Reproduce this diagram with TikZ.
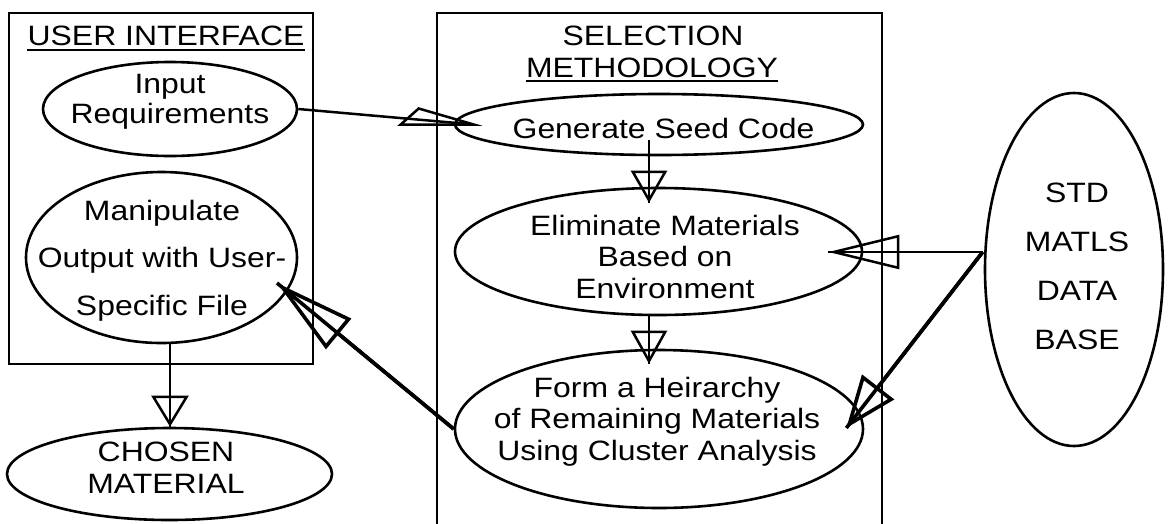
\documentclass[tikz,border=0pt]{standalone}
\usepackage{fontspec}
\setmainfont[FakeStretch=1.14]{Liberation Sans}
\usetikzlibrary{shapes.geometric,arrows.meta,calc}
\begin{document}
\begin{tikzpicture}[x=1pt,y=-1pt,
  frame/.style={draw,line width=2.8pt},
  oval/.style={draw,ellipse,line width=2.6pt,inner sep=0pt},
  txt/.style={inner sep=0pt,align=center,anchor=base,font=\fontsize{28}{#1}\selectfont},
  txt/.default=30,
  conn/.style={line width=2.5pt},
  thickconn/.style={line width=3.6pt},
  ahead/.style 2 args={postaction={draw,-{Triangle[open,length=#1,width=#2]}}},
]
\useasboundingbox (0,0) rectangle (1169,523);
% frames
\draw[frame] (9,13) rectangle (313,364);
\draw[frame] (437,13) rectangle (882,545);
% titles
\node[txt] (uit) at (166,45) {USER INTERFACE};
\draw[line width=2.2pt] ($(uit.base west)+(0,5)$) -- ($(uit.base east)+(0,5)$);
\node[txt] (selt) at (653,45) {SELECTION};
\node[txt] (metht) at (652,77) {METHODOLOGY};
\draw[line width=2.2pt] ($(metht.base west)+(0,4)$) -- ($(metht.base east)+(0,4)$);
% ellipses
\node[oval,minimum width=254pt,minimum height=94pt] (inp) at (170,109) {};
\node[oval,minimum width=271pt,minimum height=171pt] (man) at (161.5,257.5) {};
\node[oval,minimum width=325pt,minimum height=92pt] (cho) at (169.5,474) {};
\node[oval,minimum width=408pt,minimum height=61pt] (gen) at (659,124.5) {};
\node[oval,minimum width=407pt,minimum height=127pt] (eli) at (658.5,251.5) {};
\node[oval,minimum width=408pt,minimum height=158pt] (frm) at (659,429) {};
\node[oval,minimum width=178pt,minimum height=353pt] (std) at (1074,269.5) {};
% texts (base anchor = baseline of last line)
\node[txt] (inpt) at (170,123) {Input\\Requirements};
\node[txt=47.5] (mant) at (162,315) {Manipulate\\Output with User-\\Specific File};
\node[txt=32] (chot) at (166,493) {CHOSEN\\MATERIAL};
\node[txt] (gent) at (663.5,138) {Generate Seed Code};
\node[txt=31.5] (elit) at (665,298) {Eliminate Materials\\Based on\\Environment};
\node[txt=31.5] (frmt) at (657,460) {Form a Heirarchy\\of Remaining Materials\\Using Cluster Analysis};
\node[txt=48.7] (stdt) at (1077,349) {STD\\MATLS\\DATA\\BASE};
% connectors
\draw[conn] (inp.east) -- ($(gen.west)+(20,0)$) coordinate (ia);
\draw[conn,line join=miter] (ia) -- ++(-73,0) -- ++(18,-16) -- cycle;
\draw[conn,ahead={32pt}{36pt}] ($(gen.center)+(-10,15.5)$) -- ($(eli.north)+(-9.5,16)$);
\draw[conn,ahead={33pt}{36pt}] ($(eli.south)+(-9.5,0)$) -- ($(frm.north)+(-10,15)$);
\draw[conn,ahead={31pt}{37pt}] ($(man.south)+(8.5,0)$) -- ($(cho.north)+(0.5,0)$);
\coordinate (ss) at ($(std.west)+(-1,-17.5)$);
\draw[conn,ahead={71pt}{34pt}] (ss) -- ($(eli.east)+(-35,0.5)$);
\draw[thickconn,ahead={52pt}{40pt}] (ss) -- ($(frm.east)+(-18,-1)$);
\draw[thickconn,ahead={80pt}{39pt}] (frm.west) -- ($(man.center)+(115.5,25.5)$);
\end{tikzpicture}
\end{document}
